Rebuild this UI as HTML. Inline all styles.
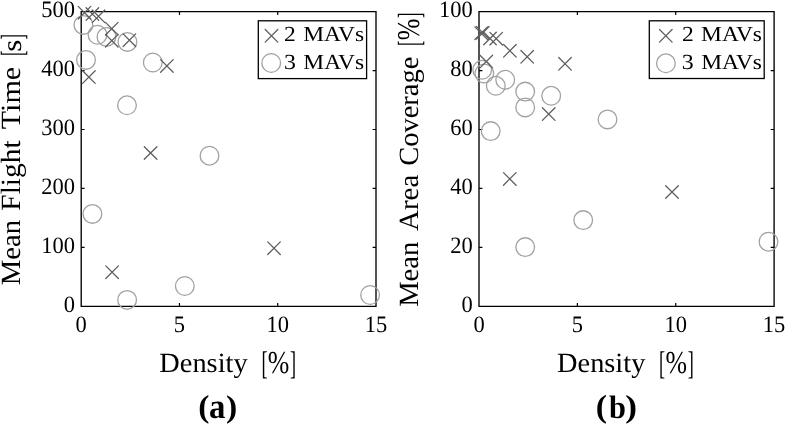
<!DOCTYPE html>
<html><head><meta charset="utf-8"><style>
html,body{margin:0;padding:0;background:#fff;}
body{width:786px;height:425px;overflow:hidden;}
svg{display:block;will-change:transform;}
text{font-family:"Liberation Serif",serif;fill:#000;text-rendering:geometricPrecision;}
.t{font-size:23.5px;}
</style></head><body>
<svg width="786" height="425" viewBox="0 0 786 425">
<path d="M81.2 11.6H376.0V306.3H81.2Z" stroke="#000" stroke-width="1.35" fill="none"/>
<path d="M179.47 306.30V302.90M179.47 11.60V15.00M277.73 306.30V302.90M277.73 11.60V15.00M81.20 247.36H84.60M376.00 247.36H372.60M81.20 188.42H84.60M376.00 188.42H372.60M81.20 129.48H84.60M376.00 129.48H372.60M81.20 70.54H84.60M376.00 70.54H372.60" stroke="#000" stroke-width="1.2" fill="none"/>
<text x="75.58" y="332.20" class="t" textLength="11.24" lengthAdjust="spacingAndGlyphs">0</text>
<text x="173.84" y="332.20" class="t" textLength="11.24" lengthAdjust="spacingAndGlyphs">5</text>
<text x="266.49" y="332.20" class="t" textLength="22.49" lengthAdjust="spacingAndGlyphs">10</text>
<text x="364.76" y="332.20" class="t" textLength="22.49" lengthAdjust="spacingAndGlyphs">15</text>
<text x="63.71" y="312.00" class="t" textLength="11.24" lengthAdjust="spacingAndGlyphs">0</text>
<text x="41.22" y="253.06" class="t" textLength="33.73" lengthAdjust="spacingAndGlyphs">100</text>
<text x="41.22" y="194.12" class="t" textLength="33.73" lengthAdjust="spacingAndGlyphs">200</text>
<text x="41.22" y="135.18" class="t" textLength="33.73" lengthAdjust="spacingAndGlyphs">300</text>
<text x="41.22" y="76.24" class="t" textLength="33.73" lengthAdjust="spacingAndGlyphs">400</text>
<text x="41.22" y="17.30" class="t" textLength="33.73" lengthAdjust="spacingAndGlyphs">500</text>
<g stroke="#a2a2a2" stroke-width="1.3" fill="none"><circle cx="83.40" cy="24.90" r="9.35"/><circle cx="97.50" cy="34.80" r="9.35"/><circle cx="106.50" cy="36.90" r="9.35"/><circle cx="127.40" cy="41.90" r="9.35"/><circle cx="152.80" cy="62.50" r="9.35"/><circle cx="86.00" cy="59.90" r="9.35"/><circle cx="127.00" cy="105.30" r="9.35"/><circle cx="209.50" cy="155.70" r="9.35"/><circle cx="92.40" cy="213.90" r="9.35"/><circle cx="127.10" cy="299.90" r="9.35"/><circle cx="184.80" cy="286.00" r="9.35"/><circle cx="370.10" cy="295.00" r="9.35"/></g>
<g stroke="#5e5e5e" stroke-width="1.3" stroke-linecap="round" fill="none"><path d="M78.20 6.40L90.80 19.00M78.20 19.00L90.80 6.40"/><path d="M86.10 7.80L98.70 20.40M86.10 20.40L98.70 7.80"/><path d="M92.20 10.00L104.80 22.60M92.20 22.60L104.80 10.00"/><path d="M105.50 22.40L118.10 35.00M105.50 35.00L118.10 22.40"/><path d="M105.50 34.40L118.10 47.00M105.50 47.00L118.10 34.40"/><path d="M123.10 33.90L135.70 46.50M123.10 46.50L135.70 33.90"/><path d="M160.60 59.60L173.20 72.20M160.60 72.20L173.20 59.60"/><path d="M82.60 70.80L95.20 83.40M82.60 83.40L95.20 70.80"/><path d="M144.30 146.70L156.90 159.30M144.30 159.30L156.90 146.70"/><path d="M105.80 265.90L118.40 278.50M105.80 278.50L118.40 265.90"/><path d="M267.70 241.90L280.30 254.50M267.70 254.50L280.30 241.90"/></g>
<rect x="258.3" y="20.8" width="108.30" height="57.80" fill="#fff" stroke="#000" stroke-width="1.3"/>
<g stroke="#5e5e5e" stroke-width="1.3" stroke-linecap="round" fill="none"><path d="M265.20 29.50L277.80 42.10M265.20 42.10L277.80 29.50"/></g>
<g stroke="#a2a2a2" stroke-width="1.3" fill="none"><circle cx="271.20" cy="63.00" r="9.35"/></g>
<text x="284.11" y="40.70" style="font-size:21.50px" textLength="11.77" lengthAdjust="spacingAndGlyphs">2</text>
<text x="303.20" y="40.70" style="font-size:21.50px" textLength="60.90" lengthAdjust="spacingAndGlyphs">MAVs</text>
<text x="283.90" y="68.70" style="font-size:21.50px" textLength="11.95" lengthAdjust="spacingAndGlyphs">3</text>
<text x="303.30" y="68.70" style="font-size:21.50px" textLength="60.79" lengthAdjust="spacingAndGlyphs">MAVs</text>
<path d="M479.0 11.6H774.1V306.3H479.0Z" stroke="#000" stroke-width="1.35" fill="none"/>
<path d="M577.37 306.30V302.90M577.37 11.60V15.00M675.73 306.30V302.90M675.73 11.60V15.00M479.00 247.36H482.40M774.10 247.36H770.70M479.00 188.42H482.40M774.10 188.42H770.70M479.00 129.48H482.40M774.10 129.48H770.70M479.00 70.54H482.40M774.10 70.54H770.70" stroke="#000" stroke-width="1.2" fill="none"/>
<text x="473.38" y="332.20" class="t" textLength="11.24" lengthAdjust="spacingAndGlyphs">0</text>
<text x="571.74" y="332.20" class="t" textLength="11.24" lengthAdjust="spacingAndGlyphs">5</text>
<text x="664.49" y="332.20" class="t" textLength="22.49" lengthAdjust="spacingAndGlyphs">10</text>
<text x="762.86" y="332.20" class="t" textLength="22.49" lengthAdjust="spacingAndGlyphs">15</text>
<text x="461.51" y="312.00" class="t" textLength="11.24" lengthAdjust="spacingAndGlyphs">0</text>
<text x="450.26" y="253.06" class="t" textLength="22.49" lengthAdjust="spacingAndGlyphs">20</text>
<text x="450.26" y="194.12" class="t" textLength="22.49" lengthAdjust="spacingAndGlyphs">40</text>
<text x="450.26" y="135.18" class="t" textLength="22.49" lengthAdjust="spacingAndGlyphs">60</text>
<text x="450.26" y="76.24" class="t" textLength="22.49" lengthAdjust="spacingAndGlyphs">80</text>
<text x="439.02" y="17.30" class="t" textLength="33.73" lengthAdjust="spacingAndGlyphs">100</text>
<g stroke="#a2a2a2" stroke-width="1.3" fill="none"><circle cx="482.20" cy="69.80" r="9.35"/><circle cx="484.30" cy="73.50" r="9.35"/><circle cx="495.80" cy="85.80" r="9.35"/><circle cx="505.20" cy="79.80" r="9.35"/><circle cx="525.20" cy="91.60" r="9.35"/><circle cx="525.20" cy="107.40" r="9.35"/><circle cx="551.20" cy="95.80" r="9.35"/><circle cx="490.70" cy="131.10" r="9.35"/><circle cx="607.50" cy="119.40" r="9.35"/><circle cx="583.20" cy="220.10" r="9.35"/><circle cx="525.20" cy="247.10" r="9.35"/><circle cx="768.50" cy="241.70" r="9.35"/></g>
<g stroke="#5e5e5e" stroke-width="1.3" stroke-linecap="round" fill="none"><path d="M474.90 26.90L487.50 39.50M474.90 39.50L487.50 26.90"/><path d="M476.50 26.50L489.10 39.10M476.50 39.10L489.10 26.50"/><path d="M483.70 32.20L496.30 44.80M483.70 44.80L496.30 32.20"/><path d="M489.90 32.40L502.50 45.00M489.90 45.00L502.50 32.40"/><path d="M503.60 44.50L516.20 57.10M503.60 57.10L516.20 44.50"/><path d="M520.90 50.50L533.50 63.10M520.90 63.10L533.50 50.50"/><path d="M558.70 57.50L571.30 70.10M558.70 70.10L571.30 57.50"/><path d="M480.00 55.30L492.60 67.90M480.00 67.90L492.60 55.30"/><path d="M542.40 107.80L555.00 120.40M542.40 120.40L555.00 107.80"/><path d="M503.50 172.60L516.10 185.20M503.50 185.20L516.10 172.60"/><path d="M665.70 185.70L678.30 198.30M665.70 198.30L678.30 185.70"/></g>
<rect x="649.3" y="20.8" width="114.90" height="57.70" fill="#fff" stroke="#000" stroke-width="1.3"/>
<g stroke="#5e5e5e" stroke-width="1.3" stroke-linecap="round" fill="none"><path d="M659.50 29.55L672.10 42.15M659.50 42.15L672.10 29.55"/></g>
<g stroke="#a2a2a2" stroke-width="1.3" fill="none"><circle cx="665.90" cy="63.30" r="9.35"/></g>
<text x="682.01" y="40.70" style="font-size:21.50px" textLength="11.77" lengthAdjust="spacingAndGlyphs">2</text>
<text x="701.10" y="40.70" style="font-size:21.50px" textLength="60.90" lengthAdjust="spacingAndGlyphs">MAVs</text>
<text x="681.80" y="68.70" style="font-size:21.50px" textLength="11.95" lengthAdjust="spacingAndGlyphs">3</text>
<text x="701.20" y="68.70" style="font-size:21.50px" textLength="60.79" lengthAdjust="spacingAndGlyphs">MAVs</text>
<text x="159.35" y="371.60" style="font-size:27.80px" textLength="88.28" lengthAdjust="spacingAndGlyphs">Density</text>
<text x="261.42" y="374.02" style="font-size:32.74px" textLength="6.08" lengthAdjust="spacingAndGlyphs">[</text>
<text x="267.82" y="373.06" style="font-size:31.88px" textLength="21.53" lengthAdjust="spacingAndGlyphs">%</text>
<text x="290.05" y="374.02" style="font-size:32.74px" textLength="6.08" lengthAdjust="spacingAndGlyphs">]</text>
<text x="557.05" y="371.60" style="font-size:27.80px" textLength="88.28" lengthAdjust="spacingAndGlyphs">Density</text>
<text x="659.12" y="374.02" style="font-size:32.74px" textLength="6.08" lengthAdjust="spacingAndGlyphs">[</text>
<text x="665.52" y="373.06" style="font-size:31.88px" textLength="21.53" lengthAdjust="spacingAndGlyphs">%</text>
<text x="687.75" y="374.02" style="font-size:32.74px" textLength="6.08" lengthAdjust="spacingAndGlyphs">]</text>
<text transform="translate(20.10 285.26) rotate(-90)" style="font-size:27.80px" textLength="65.36" lengthAdjust="spacingAndGlyphs">Mean</text>
<text transform="translate(20.10 210.68) rotate(-90)" style="font-size:27.80px" textLength="70.37" lengthAdjust="spacingAndGlyphs">Flight</text>
<text transform="translate(20.10 129.20) rotate(-90)" style="font-size:27.80px" textLength="62.36" lengthAdjust="spacingAndGlyphs">Time</text>
<text transform="translate(22.70 55.89) rotate(-90)" style="font-size:32.14px" textLength="5.65" lengthAdjust="spacingAndGlyphs">[</text>
<text transform="translate(20.93 51.74) rotate(-90)" style="font-size:27.29px" textLength="12.04" lengthAdjust="spacingAndGlyphs">s</text>
<text transform="translate(22.70 39.73) rotate(-90)" style="font-size:32.14px" textLength="5.94" lengthAdjust="spacingAndGlyphs">]</text>
<text transform="translate(417.90 306.86) rotate(-90)" style="font-size:27.80px" textLength="65.26" lengthAdjust="spacingAndGlyphs">Mean</text>
<text transform="translate(417.90 230.99) rotate(-90)" style="font-size:27.80px" textLength="56.27" lengthAdjust="spacingAndGlyphs">Area</text>
<text transform="translate(417.90 165.84) rotate(-90)" style="font-size:27.80px" textLength="109.24" lengthAdjust="spacingAndGlyphs">Coverage</text>
<text transform="translate(420.42 45.93) rotate(-90)" style="font-size:32.02px" textLength="5.36" lengthAdjust="spacingAndGlyphs">[</text>
<text transform="translate(419.27 40.28) rotate(-90)" style="font-size:31.74px" textLength="21.75" lengthAdjust="spacingAndGlyphs">%</text>
<text transform="translate(420.42 17.88) rotate(-90)" style="font-size:32.02px" textLength="5.36" lengthAdjust="spacingAndGlyphs">]</text>
<text x="198.26" y="417.10" style="font-size:31.89px;font-weight:bold" textLength="11.15" lengthAdjust="spacingAndGlyphs">(</text>
<text x="209.12" y="417.65" style="font-size:35.00px;font-weight:bold" textLength="16.41" lengthAdjust="spacingAndGlyphs">a</text>
<text x="225.98" y="417.18" style="font-size:31.54px;font-weight:bold" textLength="11.28" lengthAdjust="spacingAndGlyphs">)</text>
<text x="595.85" y="416.98" style="font-size:32.00px;font-weight:bold" textLength="11.27" lengthAdjust="spacingAndGlyphs">(</text>
<text x="609.00" y="417.67" style="font-size:32.54px;font-weight:bold" textLength="16.91" lengthAdjust="spacingAndGlyphs">b</text>
<text x="625.34" y="417.05" style="font-size:31.65px;font-weight:bold" textLength="11.79" lengthAdjust="spacingAndGlyphs">)</text>
</svg>
</body></html>
